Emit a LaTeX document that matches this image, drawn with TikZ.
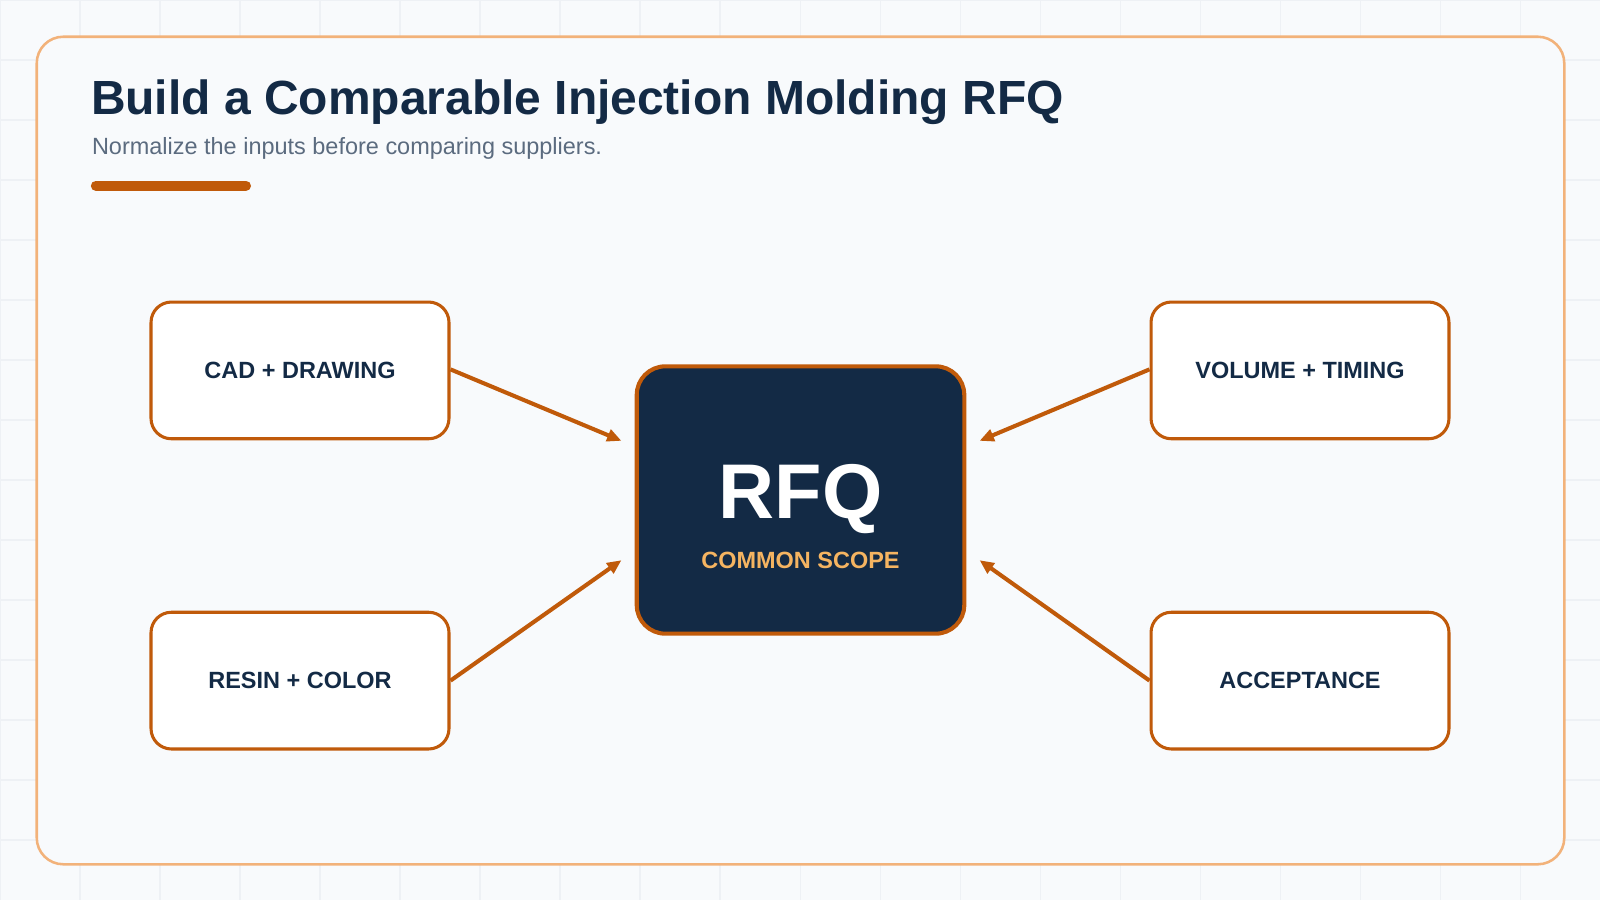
\documentclass[tikz,border=0pt]{standalone}
\usepackage{fontspec}
\setmainfont{Liberation Sans}
\usetikzlibrary{arrows.meta}
\definecolor{bg}{HTML}{F8FAFC}
\definecolor{gridc}{HTML}{EEF1F5}
\definecolor{frame}{HTML}{F2B27A}
\definecolor{navy}{HTML}{132A45}
\definecolor{accent}{HTML}{C05A0A}
\definecolor{subt}{HTML}{5B6B7F}
\definecolor{gold}{HTML}{F5B461}
\tikzset{
  inbox/.style={draw=accent,line width=3pt,fill=white,rounded corners=20pt,minimum width=292pt,minimum height=134pt,font=\fontsize{23}{26}\selectfont\bfseries,text=navy},
  arr/.style={draw=accent,line width=4pt,-{Triangle[length=14pt,width=12pt]}}
}
\begin{document}
\begin{tikzpicture}[x=1pt,y=-1pt]
\useasboundingbox (0,0) rectangle (1568,882);
\fill[bg] (0,0) rectangle (1568,882);
\foreach \x in {0,78.4,...,1568} \draw[gridc,line width=1pt] (\x,0) -- (\x,882);
\foreach \y in {0,58.8,...,882} \draw[gridc,line width=1pt] (0,\y) -- (1568,\y);
\draw[frame,line width=2.5pt,fill=bg,rounded corners=26pt] (36,36) rectangle (1533,847);
\node[anchor=base west,text=navy,font=\fontsize{47}{50}\selectfont\bfseries,inner sep=0] (title) at (89,112) {Build a Comparable Injection Molding RFQ};
\node[anchor=base west,text=subt,font=\fontsize{23}{26}\selectfont,inner sep=0] (sub) at (90,151) {Normalize the inputs before comparing suppliers.};
\draw[accent,line width=10pt,line cap=round] (94,182) -- (241,182);
\node[inbox] (cad) at (294,363) {CAD + DRAWING};
\node[inbox] (resin) at (294,667) {RESIN + COLOR};
\node[inbox] (vol) at (1274,363) {VOLUME + TIMING};
\node[inbox] (acc) at (1274,667) {ACCEPTANCE};
\node[draw=accent,line width=4pt,fill=navy,rounded corners=28pt,minimum width=321pt,minimum height=262pt] (rfq) at (784.5,490) {};
\node[text=white,font=\fontsize{76}{80}\selectfont\bfseries,inner sep=0,anchor=base] (rfqt) at (784.5,508) {RFQ};
\node[text=gold,font=\fontsize{23}{26}\selectfont\bfseries,inner sep=0,anchor=base] (cs) at (784.5,557) {COMMON SCOPE};
\coordinate (e1) at (609,432);
\coordinate (e2) at (609,549);
\coordinate (e3) at (960,432);
\coordinate (e4) at (960,549);
\draw[arr] (cad.east) ++(0,-1) -- (e1);
\draw[arr] (resin.east) -- (e2);
\draw[arr] (vol.west) ++(0,-1) -- (e3);
\draw[arr] (acc.west) -- (e4);
\end{tikzpicture}
\end{document}
